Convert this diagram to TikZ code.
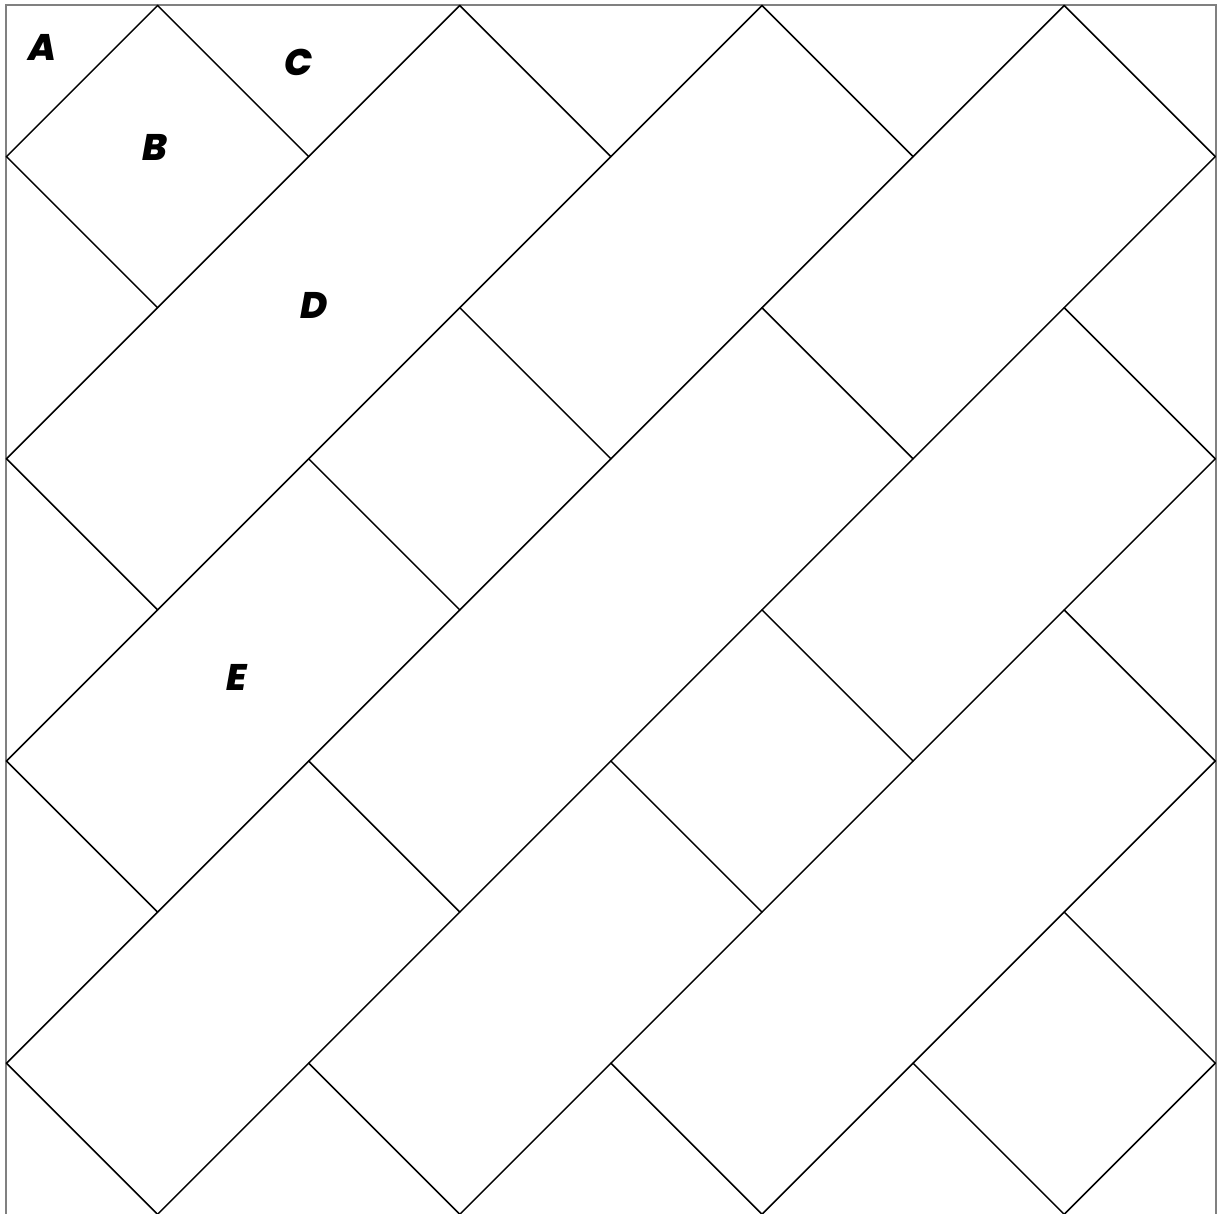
\documentclass[tikz,border=0pt]{standalone}
\usepackage{fontspec}
\newfontfamily\labfont{Poppins}[BoldItalicFont={Poppins ExtraBold Italic}]
\begin{document}
\begin{tikzpicture}[x=0.5pt,y=-0.5pt,
  frame/.style={draw=black!50,line width=1pt},
  edge/.style={draw=black,line width=0.75pt,line cap=round},
  lab/.style={font=\labfont\bfseries\itshape\fontsize{18.5}{20}\selectfont,inner sep=0pt}]
\useasboundingbox (0,0) rectangle (1217,1214);
\foreach \i in {0,...,8}{\foreach \j in {0,...,8}{
  \coordinate (p\i\j) at ({6.5+151.1*\i},{5.5+151.1*\j});}}
\coordinate (fbl) at (6,1214);
\coordinate (ftl) at (6,5);
\coordinate (ftr) at (1216,5);
\coordinate (fbr) at (1216,1214);
\draw[frame] (fbl) -- (ftl) -- (ftr) -- (fbr);
% rising lines
\foreach \a/\b in {01/10,03/30,05/50,07/70,18/81,38/83,58/85,78/87}
  \draw[edge] (p\a) -- (p\b);
% falling segments
\foreach \i/\j/\k/\l in {1/0/2/1,0/1/1/2,3/0/4/1,0/3/1/4,5/0/6/1,3/2/4/3,2/3/3/4,0/5/1/6,
  7/0/8/1,5/2/6/3,2/5/3/6,0/7/1/8,7/2/8/3,5/4/6/5,4/5/5/6,2/7/3/8,7/4/8/5,4/7/5/8,7/6/8/7,6/7/7/8}
  \draw[edge] (p\i\j) -- (p\k\l);
\node[lab] (A) at (42,47) {A};
\node[lab] (B) at (155,147) {B};
\node[lab] (C) at (299,62) {C};
\node[lab] (D) at (314,305) {D};
\node[lab] (E) at (237,677) {E};
\end{tikzpicture}
\end{document}
